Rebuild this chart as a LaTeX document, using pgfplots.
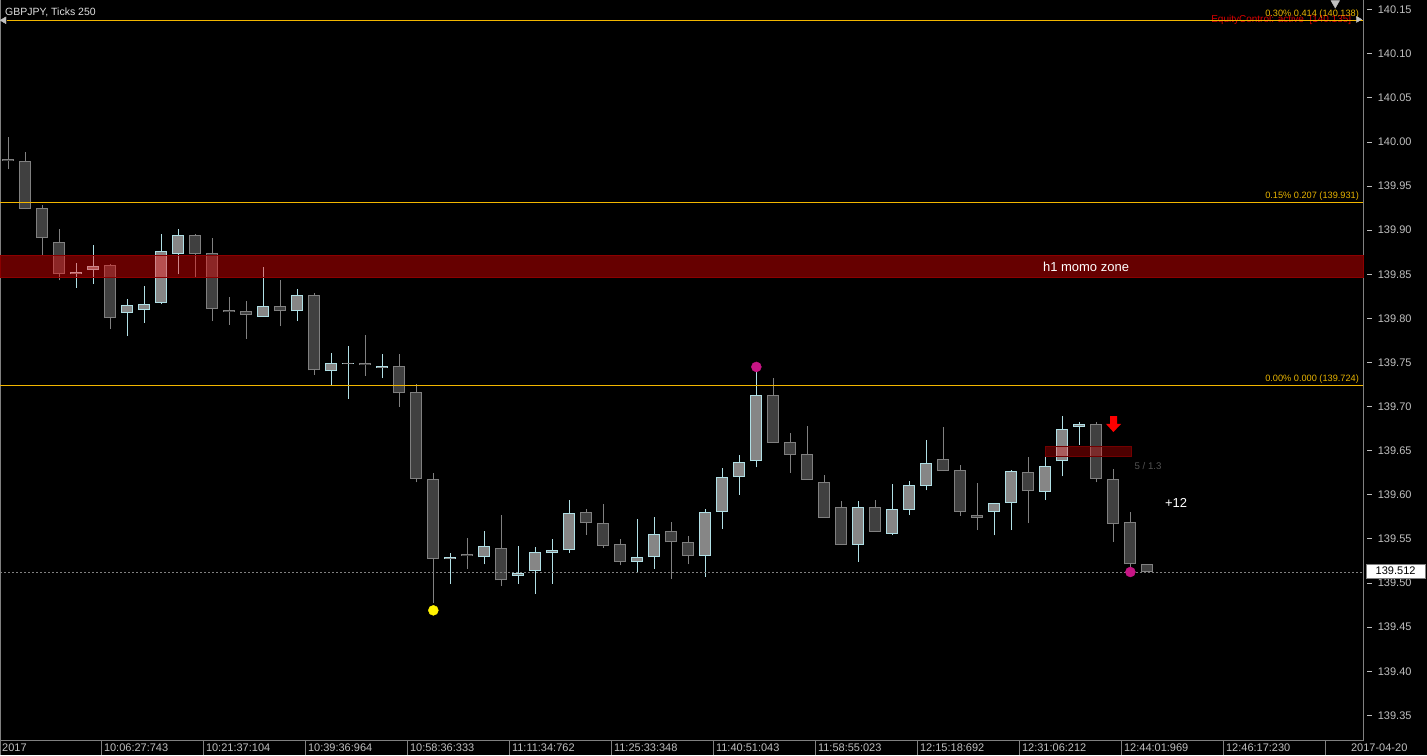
\documentclass[border=0pt]{standalone}
\usepackage{pgfplots}
\pgfplotsset{compat=1.18}
\usepackage{pgfplotstable}
\usepackage{fontspec}
\setmainfont{Liberation Sans}
\usetikzlibrary{backgrounds}

\definecolor{bullfill}{HTML}{868686}
\definecolor{bullline}{HTML}{B0E0E6}
\definecolor{bearfill}{HTML}{404040}
\definecolor{bearline}{HTML}{808080}
\definecolor{fibo}{HTML}{F2B600}
\definecolor{fibotext}{HTML}{E8B400}
\definecolor{axisgray}{HTML}{808080}
\definecolor{labelgray}{HTML}{C0C0C0}
\definecolor{dotpink}{HTML}{C71585}

% bullish candles: index open high low close
\pgfplotstableread{
x  o       h       l       c
4  139.850 139.863 139.835 139.853
5  139.855 139.883 139.839 139.859
7  139.806 139.822 139.780 139.815
8  139.810 139.837 139.795 139.816
9  139.818 139.896 139.816 139.876
10 139.873 139.901 139.850 139.895
15 139.802 139.858 139.802 139.814
17 139.808 139.833 139.797 139.826
19 139.740 139.761 139.724 139.749
20 139.748 139.769 139.709 139.750
22 139.744 139.760 139.732 139.746
26 139.527 139.534 139.499 139.529
28 139.529 139.559 139.521 139.542
30 139.508 139.542 139.499 139.511
31 139.514 139.541 139.488 139.535
32 139.534 139.550 139.499 139.537
33 139.537 139.594 139.534 139.579
37 139.524 139.573 139.512 139.529
38 139.529 139.575 139.516 139.556
41 139.531 139.584 139.507 139.581
42 139.581 139.630 139.561 139.620
43 139.620 139.645 139.600 139.637
44 139.638 139.739 139.631 139.713
50 139.543 139.593 139.524 139.586
52 139.556 139.612 139.554 139.584
53 139.583 139.616 139.577 139.611
54 139.610 139.662 139.605 139.636
58 139.581 139.591 139.554 139.591
59 139.591 139.628 139.560 139.627
61 139.603 139.643 139.594 139.633
62 139.638 139.689 139.621 139.675
63 139.677 139.683 139.657 139.680
}\bull

% bearish candles
\pgfplotstableread{
x  o       h       l       c
0  139.981 140.006 139.969 139.979
1  139.979 139.989 139.924 139.924
2  139.925 139.929 139.872 139.891
3  139.887 139.901 139.843 139.850
6  139.860 139.862 139.788 139.800
11 139.895 139.896 139.846 139.873
12 139.874 139.891 139.797 139.811
13 139.810 139.824 139.793 139.807
14 139.808 139.820 139.777 139.804
16 139.814 139.844 139.791 139.808
18 139.827 139.829 139.736 139.741
21 139.750 139.781 139.735 139.747
23 139.746 139.760 139.700 139.715
24 139.717 139.726 139.614 139.618
25 139.618 139.625 139.477 139.527
27 139.533 139.551 139.516 139.531
29 139.540 139.577 139.497 139.503
34 139.580 139.584 139.555 139.568
35 139.568 139.590 139.540 139.542
36 139.544 139.550 139.520 139.524
39 139.559 139.569 139.505 139.546
40 139.546 139.553 139.521 139.531
45 139.713 139.732 139.659 139.659
46 139.660 139.670 139.625 139.645
47 139.646 139.678 139.617 139.617
48 139.615 139.622 139.574 139.574
49 139.586 139.593 139.543 139.543
51 139.586 139.594 139.558 139.558
55 139.641 139.677 139.627 139.627
56 139.628 139.634 139.576 139.581
57 139.577 139.613 139.560 139.574
60 139.626 139.643 139.568 139.604
64 139.680 139.683 139.614 139.618
65 139.618 139.629 139.547 139.567
66 139.569 139.580 139.517 139.521
67 139.522 139.522 139.512 139.512
}\bear

\begin{document}
\begin{tikzpicture}[show background rectangle, inner frame sep=0pt,
  background rectangle/.style={fill=black}]
\begin{axis}[
  scale only axis, width=1363pt, height=741pt,
  xmin=-0.488, xmax=79.69, ymin=139.3209, ymax=140.1610,
  clip=false,
  axis line style={axisgray, line width=1pt},
  tick label style={font=\fontsize{11}{13}\selectfont, text=labelgray},
  /pgf/number format/assume math mode=true,
  ytick={139.35,139.40,139.45,139.50,139.55,139.60,139.65,139.70,139.75,
         139.80,139.85,139.90,139.95,140.00,140.05,140.10,140.15},
  yticklabel pos=right,
  ytick style={draw=none},
  yticklabel={\rule[0.32em]{5pt}{0.7pt}\hspace{5.5pt}\pgfmathprintnumber[fixed,fixed zerofill,precision=2,assume math mode=true]{\tick}},
  yticklabel style={anchor=west, inner sep=0pt, xshift=4pt},
  xtick={-0.488,5.5,11.5,17.5,23.5,29.5,35.5,41.5,47.5,53.5,59.5,65.5,71.5,77.5},
  xticklabels={2017,10:06:27:743,10:21:37:104,10:39:36:964,10:58:36:333,
    11:11:34:762,11:25:33:348,11:40:51:043,11:58:55:023,12:15:18:692,
    12:31:06:212,12:44:01:969,12:46:17:230,\hspace*{23pt}2017-04-20},
  xtick align=outside, major tick length=14pt,
  xtick style={axisgray, line width=1pt},
  xticklabel style={anchor=west, inner sep=0pt, xshift=2pt, yshift=7pt},
  axis x line*=bottom, axis y line*=right,
]
\coordinate (TL) at (rel axis cs:0,1);
% frame (top and left)
\addplot [axisgray, line width=1pt] coordinates {(-0.488,139.3209) (-0.488,140.1610) (79.69,140.1610)};

% wicks
\addplot [draw=none, mark=none, error bars/.cd, y dir=plus, y explicit, error mark=none,
  error bar style={draw=bearline, line width=1pt}]
  table [x=x, y=l, y error plus expr=\thisrow{h}-\thisrow{l}] {\bear};
\addplot [draw=none, mark=none, error bars/.cd, y dir=plus, y explicit, error mark=none,
  error bar style={draw=bullline, line width=1pt}]
  table [x=x, y=l, y error plus expr=\thisrow{h}-\thisrow{l}] {\bull};
% bodies: border then fill
\addplot [draw=none, mark=none, error bars/.cd, y dir=plus, y explicit, error mark=none,
  error bar style={draw=bearline, line width=12pt}]
  table [x=x, y=c, y error plus expr=\thisrow{o}-\thisrow{c}] {\bear};
\addplot [draw=none, mark=none, error bars/.cd, y dir=plus, y explicit, error mark=none,
  error bar style={draw=bearfill, line width=10pt, shorten <=1pt, shorten >=1pt}]
  table [x=x, y=c, y error plus expr=\thisrow{o}-\thisrow{c}] {\bear};
\addplot [draw=none, mark=none, error bars/.cd, y dir=plus, y explicit, error mark=none,
  error bar style={draw=bullline, line width=12pt}]
  table [x=x, y=o, y error plus expr=\thisrow{c}-\thisrow{o}] {\bull};
\addplot [draw=none, mark=none, error bars/.cd, y dir=plus, y explicit, error mark=none,
  error bar style={draw=bullfill, line width=10pt, shorten <=1pt, shorten >=1pt}]
  table [x=x, y=o, y error plus expr=\thisrow{c}-\thisrow{o}] {\bull};

% h1 momo zone
\addplot [fill=red, fill opacity=0.4, draw=red!55!black, line width=0.8pt]
  coordinates {(-0.488,139.846) (79.69,139.846) (79.69,139.872) (-0.488,139.872)} -- cycle;
% signal box
\addplot [fill=red, fill opacity=0.3, draw=red!45!black, line width=0.8pt]
  coordinates {(60.98,139.643) (66.04,139.643) (66.04,139.655) (60.98,139.655)} -- cycle;
% red down arrow
\addplot [fill=red, draw=none]
  coordinates {(64.81,139.6893) (65.22,139.6893) (65.22,139.6803) (65.45,139.6803)
               (65.0,139.6712) (64.57,139.6803) (64.81,139.6803)} -- cycle;

% last price
\addplot [axisgray, line width=0.8pt, dash pattern=on 2pt off 2pt]
  coordinates {(-0.488,139.512) (79.69,139.512)};

% fibo levels
\node [anchor=south east, inner sep=0pt, text=red!85!black, font=\fontsize{10}{12}\selectfont]
  at (axis cs:79.0,140.1330) {EquityControl: active\ \ [140.135]};
\addplot [fibo, line width=1pt] coordinates {(-0.1,140.138) (79.69,140.138)};
\addplot [fibo, line width=1pt] coordinates {(-0.488,139.931) (79.69,139.931)};
\addplot [fibo, line width=1pt] coordinates {(-0.488,139.724) (79.69,139.724)};
\node [anchor=south east, inner sep=0pt, text=fibotext, font=\fontsize{9.2}{11}\selectfont]
  at (axis cs:79.45,140.1403) {0.30\% 0.414 (140.138)};
\node [anchor=south east, inner sep=0pt, text=fibotext, font=\fontsize{9.2}{11}\selectfont]
  at (axis cs:79.45,139.9333) {0.15\% 0.207 (139.931)};
\node [anchor=south east, inner sep=0pt, text=fibotext, font=\fontsize{9.2}{11}\selectfont]
  at (axis cs:79.45,139.7263) {0.00\% 0.000 (139.724)};

% small triangles
\addplot [only marks, mark=triangle*, mark size=4pt, mark options={rotate=90, fill=labelgray, draw=labelgray}]
  coordinates {(-0.25,140.138)};
\addplot [only marks, mark=triangle*, mark size=3.5pt, mark options={rotate=-90, fill=labelgray, draw=labelgray}]
  coordinates {(79.4,140.139)};
\addplot [only marks, mark=triangle*, mark size=5pt, mark options={rotate=180, fill=labelgray, draw=labelgray}]
  coordinates {(78.05,140.1575)};

% swing dots
\addplot [only marks, mark=*, mark size=5pt, mark options={fill=yellow, draw=yellow}]
  coordinates {(25,139.469)};
\addplot [only marks, mark=*, mark size=5pt, mark options={fill=dotpink, draw=dotpink}]
  coordinates {(44,139.745) (66,139.5125)};

% texts
\node [anchor=west, inner sep=0pt, text=white!88!black, font=\fontsize{10.5}{12}\selectfont]
  at (rel axis cs:0.0037,0.9838) {GBPJPY, Ticks 250};
\node [text=white, inner sep=0pt, font=\fontsize{13}{15}\selectfont]
  at (axis cs:63.39,139.859) {h1 momo zone};
\node [text=white, inner sep=0pt, font=\fontsize{13}{15}\selectfont]
  at (axis cs:68.69,139.5907) {+12};
\node [text=white!32!black, inner sep=0pt, font=\fontsize{9.7}{11}\selectfont]
  at (axis cs:67.04,139.6327) {5 / 1.3};
\coordinate (PB) at (axis cs:81.6,139.5136);
\end{axis}
\node [fill=white, draw=axisgray, line width=0.6pt, minimum width=59pt, minimum height=14pt,
  inner sep=0pt, font=\fontsize{11}{13}\selectfont, text=black] at (PB) {139.512};
\pgfresetboundingbox
\path [use as bounding box] (TL) rectangle ++(1427pt,-755pt);
\end{tikzpicture}
\end{document}
